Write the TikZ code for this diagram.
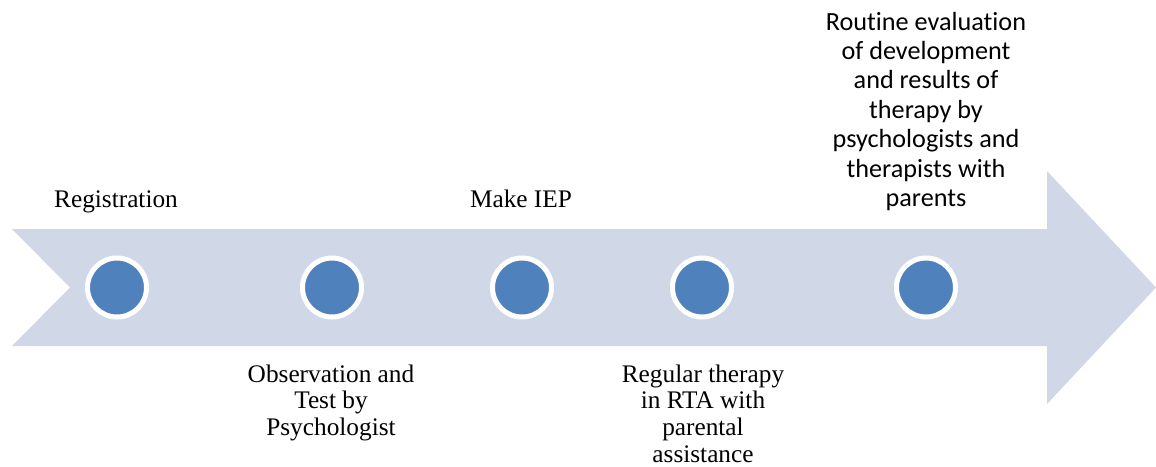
\documentclass[tikz,border=0pt]{standalone}
\usepackage{fontspec}
\setmainfont{Liberation Serif}
\newfontfamily\labelsans[Ligatures=NoCommon]{Carlito}
\definecolor{shaft}{HTML}{D0D8E8}
\definecolor{dotblue}{HTML}{4F81BD}
\begin{document}
\begin{tikzpicture}[x=1pt,y=-1pt,
  dot/.style={circle,fill=dotblue,draw=white,line width=5pt,inner sep=0pt,minimum size=59pt},
  serifnote/.style={align=center,anchor=base,inner sep=0pt,font=\fontsize{25.3}{26.8}\selectfont},
  sansnote/.style={align=center,anchor=base,inner sep=0pt,font=\labelsans\fontsize{26.2}{29.4}\selectfont}]
\useasboundingbox (0,0) rectangle (1156,466);
% timeline arrow
\fill[shaft] (12,229) -- (1047,229) -- (1047,171) -- (1156,287.5) -- (1047,404)
  -- (1047,346) -- (12,346) -- (70,287.5) -- cycle;
% milestones
\node[dot] (c1) at (117,287.5) {};
\node[dot] (c2) at (332,287.5) {};
\node[dot] (c3) at (522,287.5) {};
\node[dot] (c4) at (702,287.5) {};
\node[dot] (c5) at (926,287.5) {};
% labels (multi-line labels are placed by the baseline of their last line)
\node[serifnote] (t1) at (116,207) {Registration};
\node[serifnote] (t2) at (331,435.6) {Observation and\\Test by\\Psychologist};
\node[serifnote] (t3) at (521,207) {Make IEP};
\node[serifnote] (t4) at (703,462.4) {Regular therapy\\in RTA with\\parental\\assistance};
\node[sansnote] (t5) at (926,206.5) {Routine evaluation\\of development\\and results of\\therapy by\\psychologists and\\therapists with\\parents};
\end{tikzpicture}
\end{document}
